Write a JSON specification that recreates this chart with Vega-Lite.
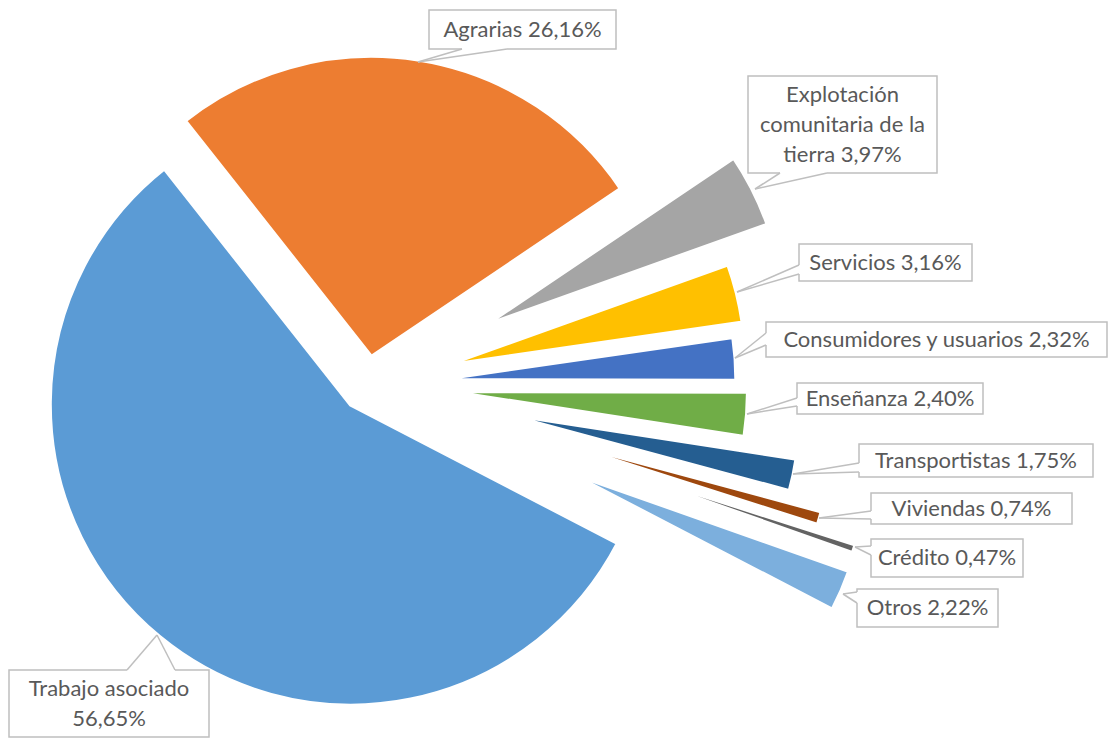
{
  "$schema": "https://vega.github.io/schema/vega-lite/v6.json",
  "width": 1108,
  "height": 738,
  "autosize": {"type": "fit", "contains": "padding"},
  "padding": 0,
  "background": "white",
  "config": {"view": {"stroke": null}},
  "params": [
    {"name": "startDeg", "value": 117.44},
    {"name": "C0", "value": [367, 385]},
    {"name": "lineH", "value": 30},
    {"name": "explode", "value": {
      "Trabajo asociado": 25.4, "Agrarias": 28.4, "Explotación comunitaria de la tierra": 131.3,
      "Servicios": 80.1, "Consumidores y usuarios": 68.5, "Enseñanza": 80.2, "Transportistas": 134.9,
      "Viviendas": 171, "Crédito": 213, "Otros": 216.2}},
    {"name": "callout", "value": {
      "Agrarias": [429, 10, 616, 49, 418, 62, 462, 49, 507, 49],
      "Explotación comunitaria de la tierra": [748, 76, 937, 173, 755, 189, 780, 173, 827, 173],
      "Servicios": [799, 244, 972, 281, 737, 292, 799, 265, 799, 274],
      "Consumidores y usuarios": [766, 322, 1107, 357, 735, 358, 766, 333, 766, 345],
      "Enseñanza": [797, 383, 983, 414, 747, 414, 797, 398, 797, 406],
      "Transportistas": [859, 444, 1093, 477, 793, 474, 859, 463, 859, 472],
      "Viviendas": [871, 493, 1072, 524, 819, 518, 871, 511, 871, 519],
      "Crédito": [871, 539, 1023, 577, 855, 547, 871, 546, 871, 555],
      "Otros": [857, 589, 998, 627, 843, 594, 857, 592, 857, 603],
      "Trabajo asociado": [9, 670, 209, 737, 157, 635, 127, 670, 175, 670]}}
  ],
  "data": {"values": [
    {"n": 1, "cat": "Trabajo asociado", "pct": 56.65, "label": "Trabajo asociado\n56,65%"},
    {"n": 2, "cat": "Agrarias", "pct": 26.16, "label": "Agrarias 26,16%"},
    {"n": 3, "cat": "Explotación comunitaria de la tierra", "pct": 3.97, "label": "Explotación\ncomunitaria de la\ntierra 3,97%"},
    {"n": 4, "cat": "Servicios", "pct": 3.16, "label": "Servicios 3,16%"},
    {"n": 5, "cat": "Consumidores y usuarios", "pct": 2.32, "label": "Consumidores y usuarios 2,32%"},
    {"n": 6, "cat": "Enseñanza", "pct": 2.40, "label": "Enseñanza 2,40%"},
    {"n": 7, "cat": "Transportistas", "pct": 1.75, "label": "Transportistas 1,75%"},
    {"n": 8, "cat": "Viviendas", "pct": 0.74, "label": "Viviendas 0,74%"},
    {"n": 9, "cat": "Crédito", "pct": 0.47, "label": "Crédito 0,47%"},
    {"n": 10, "cat": "Otros", "pct": 2.22, "label": "Otros 2,22%"}
  ]},
  "transform": [
    {"window": [{"op": "sum", "field": "pct", "as": "cum"}], "sort": [{"field": "n"}], "frame": [null, 0]},
    {"joinaggregate": [{"op": "sum", "field": "pct", "as": "tot"}]},
    {"calculate": "datum.cum - datum.pct", "as": "s0"},
    {"calculate": "(startDeg + 360 * (datum.cum - datum.pct / 2) / datum.tot) * PI / 180", "as": "mid"},
    {"calculate": "C0[0] + explode[datum.cat] * sin(datum.mid)", "as": "cx"},
    {"calculate": "C0[1] - explode[datum.cat] * cos(datum.mid)", "as": "cy"},
    {"calculate": "callout[datum.cat][0]", "as": "bx1"},
    {"calculate": "callout[datum.cat][1]", "as": "by1"},
    {"calculate": "callout[datum.cat][2]", "as": "bx2"},
    {"calculate": "callout[datum.cat][3]", "as": "by2"},
    {"calculate": "callout[datum.cat][4]", "as": "tx"},
    {"calculate": "callout[datum.cat][5]", "as": "ty"},
    {"calculate": "callout[datum.cat][6]", "as": "p1x"},
    {"calculate": "callout[datum.cat][7]", "as": "p1y"},
    {"calculate": "callout[datum.cat][8]", "as": "p2x"},
    {"calculate": "callout[datum.cat][9]", "as": "p2y"},
    {"calculate": "(datum.bx1 + datum.bx2) / 2", "as": "lx"},
    {"calculate": "(datum.by1 + datum.by2) / 2 - (length(split(datum.label, '\\n')) - 1) * lineH / 2", "as": "ly"}
  ],
  "layer": [
    {
      "mark": {"type": "arc", "radius": 301, "stroke": "white", "strokeWidth": 4},
      "encoding": {
        "x": {"field": "cx", "type": "quantitative", "scale": {"domain": [0, 1108], "nice": false, "zero": false}, "axis": null},
        "y": {"field": "cy", "type": "quantitative", "scale": {"domain": [0, 738], "nice": false, "zero": false, "reverse": true}, "axis": null},
        "theta": {"field": "s0", "type": "quantitative", "scale": {"domain": [0, 99.84], "range": [2.0497, 8.3329]}},
        "theta2": {"field": "cum"},
        "color": {"field": "cat", "type": "nominal", "legend": null,
          "scale": {
            "domain": ["Trabajo asociado", "Agrarias", "Explotación comunitaria de la tierra", "Servicios", "Consumidores y usuarios", "Enseñanza", "Transportistas", "Viviendas", "Crédito", "Otros"],
            "range": ["#5B9BD5", "#ED7D31", "#A5A5A5", "#FFC000", "#4472C4", "#70AD47", "#255E91", "#9E480E", "#636363", "#7CAFDD"]}}
      }
    },
    {
      "mark": {"type": "rect", "fill": "white", "stroke": "#BFBFBF", "strokeWidth": 1.5},
      "encoding": {
        "x": {"field": "bx1", "type": "quantitative", "scale": {"domain": [0, 1108], "nice": false, "zero": false}, "axis": null},
        "x2": {"field": "bx2"},
        "y": {"field": "by1", "type": "quantitative", "scale": {"domain": [0, 738], "nice": false, "zero": false, "reverse": true}, "axis": null},
        "y2": {"field": "by2"}
      }
    },
    {
      "mark": {"type": "rule", "stroke": "white", "strokeWidth": 2.5},
      "encoding": {
        "x": {"field": "p1x", "type": "quantitative", "scale": {"domain": [0, 1108], "nice": false, "zero": false}, "axis": null},
        "x2": {"field": "p2x"},
        "y": {"field": "p1y", "type": "quantitative", "scale": {"domain": [0, 738], "nice": false, "zero": false, "reverse": true}, "axis": null},
        "y2": {"field": "p2y"}
      }
    },
    {
      "mark": {"type": "rule", "stroke": "#BFBFBF", "strokeWidth": 1.5},
      "encoding": {
        "x": {"field": "tx", "type": "quantitative", "scale": {"domain": [0, 1108], "nice": false, "zero": false}, "axis": null},
        "x2": {"field": "p1x"},
        "y": {"field": "ty", "type": "quantitative", "scale": {"domain": [0, 738], "nice": false, "zero": false, "reverse": true}, "axis": null},
        "y2": {"field": "p1y"}
      }
    },
    {
      "mark": {"type": "rule", "stroke": "#BFBFBF", "strokeWidth": 1.5},
      "encoding": {
        "x": {"field": "tx", "type": "quantitative", "scale": {"domain": [0, 1108], "nice": false, "zero": false}, "axis": null},
        "x2": {"field": "p2x"},
        "y": {"field": "ty", "type": "quantitative", "scale": {"domain": [0, 738], "nice": false, "zero": false, "reverse": true}, "axis": null},
        "y2": {"field": "p2y"}
      }
    },
    {
      "mark": {"type": "text", "font": "Lato", "fontSize": 22, "fill": "#595959", "align": "center", "baseline": "middle", "lineBreak": "\n", "lineHeight": 30},
      "encoding": {
        "x": {"field": "lx", "type": "quantitative", "scale": {"domain": [0, 1108], "nice": false, "zero": false}, "axis": null},
        "y": {"field": "ly", "type": "quantitative", "scale": {"domain": [0, 738], "nice": false, "zero": false, "reverse": true}, "axis": null},
        "text": {"field": "label", "type": "nominal"}
      }
    }
  ]
}
